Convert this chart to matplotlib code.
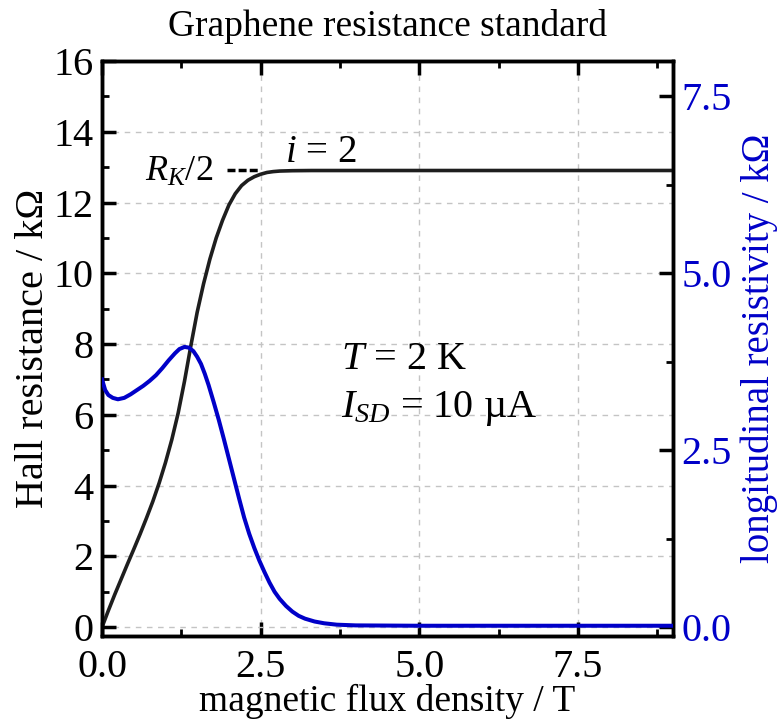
import matplotlib
matplotlib.use("Agg")
import matplotlib.pyplot as plt
from matplotlib.ticker import MultipleLocator

plt.rcParams["font.family"] = ["Liberation Serif", "DejaVu Serif"]
plt.rcParams["mathtext.fontset"] = "custom"
plt.rcParams["mathtext.rm"] = "Liberation Serif"
plt.rcParams["mathtext.it"] = "Liberation Serif:italic"

BLUE = "#0000c8"

# Hall resistance (left axis, kOhm)
hall_b = [0.0, 0.1, 0.2, 0.3, 0.4, 0.5, 0.6, 0.7, 0.8, 0.9, 1.0, 1.1, 1.2, 1.3, 1.4,
          1.5, 1.6, 1.7, 1.8, 1.9, 2.0, 2.1, 2.2, 2.3, 2.4, 2.5, 2.6, 2.7, 2.8, 3.0,
          3.3, 9.0]
hall_r = [0.0, 0.47, 0.92, 1.35, 1.78, 2.2, 2.63, 3.08, 3.55, 4.07, 4.65, 5.3, 6.05,
          6.95, 7.95, 8.9, 9.7, 10.4, 11.0, 11.5, 11.93, 12.25, 12.48, 12.63, 12.73,
          12.8, 12.85, 12.875, 12.89, 12.9, 12.905, 12.906]

# longitudinal resistivity (right axis, kOhm)
rho_b = [0.0, 0.02, 0.05, 0.1, 0.17, 0.25, 0.35, 0.45, 0.55, 0.65, 0.75, 0.85, 0.95,
         1.05, 1.15, 1.22, 1.3, 1.37, 1.44, 1.5, 1.56, 1.62, 1.68, 1.76, 1.84, 1.92,
         2.0, 2.08, 2.16, 2.24, 2.32, 2.4, 2.48, 2.56, 2.64, 2.72, 2.8, 2.9, 3.0, 3.1,
         3.2, 3.35, 3.5, 3.7, 4.0, 5.0, 9.0]
rho_xx = [3.5, 3.44, 3.35, 3.28, 3.24, 3.22, 3.24, 3.29, 3.35, 3.41, 3.48, 3.56, 3.66,
          3.77, 3.87, 3.93, 3.96, 3.95, 3.9, 3.82, 3.72, 3.58, 3.42, 3.18, 2.93, 2.66,
          2.38, 2.1, 1.82, 1.55, 1.32, 1.12, 0.94, 0.78, 0.63, 0.5, 0.4, 0.3, 0.22,
          0.16, 0.12, 0.08, 0.055, 0.035, 0.025, 0.02, 0.02]

rk_half = 12.906

fig = plt.figure(figsize=(7.8, 7.22), dpi=100)
ax = fig.add_axes([0.1308, 0.1191, 0.732, 0.7964])
ax2 = ax.twinx()

ax.plot(hall_b, hall_r, color="#1e1e1e", lw=2.6, zorder=3)
ax2.plot(rho_b, rho_xx, color=BLUE, lw=2.9, zorder=3)

ax.set_xlim(0, 9)
ax.set_ylim(-0.25, 16)
ax2.set_ylim(-0.125, 8)

ax.xaxis.set_minor_locator(MultipleLocator(1.25))
ax.yaxis.set_major_locator(MultipleLocator(2))
ax.yaxis.set_minor_locator(MultipleLocator(1))
ax2.yaxis.set_minor_locator(MultipleLocator(1.25))

ax.set_xticks([0, 2.5, 5, 7.5])
ax.set_xticklabels(["0.0", "2.5", "5.0", "7.5"])
ax2.set_yticks([0, 2.5, 5, 7.5])
ax2.set_yticklabels(["0.0", "2.5", "5.0", "7.5"])

ax.grid(True, which="major", color="#c4c4c4", linestyle=(0, (4, 4)), linewidth=1.0)
ax.set_axisbelow(True)

ax.tick_params(axis="x", which="both", direction="in", top=True, labelsize=29, pad=9)
ax.tick_params(axis="y", which="both", direction="in", right=False, labelsize=29, pad=6)
ax.tick_params(which="major", length=10, width=2.5)
ax.tick_params(which="minor", length=5, width=2)
ax2.tick_params(axis="y", which="both", direction="in", labelsize=29, labelcolor=BLUE, pad=6)
ax2.tick_params(which="major", length=10, width=2.5)
ax2.tick_params(which="minor", length=5, width=2)

for a in (ax, ax2):
    for s in a.spines.values():
        s.set_linewidth(2.5)

ax.set_xlabel("magnetic flux density / T", fontsize=27, labelpad=-1)
ax.set_ylabel("Hall resistance / k\u03a9", fontsize=29, labelpad=1)
ax2.set_ylabel("longitudinal resistivity / k\u03a9", fontsize=28, color=BLUE, labelpad=6)
ax.set_title("Graphene resistance standard", fontsize=27, pad=18)

# R_K/2 marker
ax.plot([1.97, 2.46], [rk_half, rk_half], color="black", lw=2.5,
        linestyle=(0, (2.3, 0.9)), zorder=3)
ax.text(1.75, 12.6, "$R_K$/2", fontsize=26, ha="right", va="baseline")
ax.text(3.45, 13.15, "$i$ = 2", fontsize=28, ha="center", va="baseline")

ax.text(3.77, 7.3, "$T$ = 2 K", fontsize=29, ha="left", va="baseline")
ax.text(3.77, 5.94, "$I_{SD}$ = 10 \u00b5A", fontsize=29, ha="left", va="baseline")

fig.savefig("out.png", dpi=100)
